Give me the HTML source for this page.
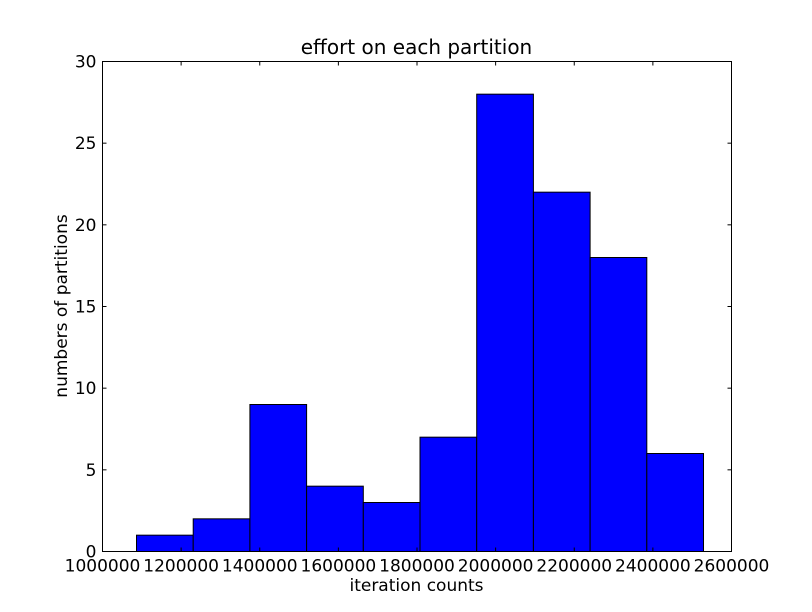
<!DOCTYPE html>
<html><head><meta charset="utf-8"><style>
html,body{margin:0;padding:0;background:#fff}
svg{display:block;font-family:"DejaVu Sans","Liberation Sans",sans-serif}
</style></head><body>
<svg id="chart" width="812" height="612">
<rect width="812" height="612" fill="#fff"/>
<text x="416.5" y="54" font-size="20" text-anchor="middle">effort on each partition</text>
<text x="416.5" y="591" font-size="17" text-anchor="middle">iteration counts</text>
<text transform="translate(67,306) rotate(-90)" font-size="17" text-anchor="middle">numbers of partitions</text>
<g id="bars"></g>
<g id="axes"></g>
</svg>
<script>
const binStart = 1086500;
const binWidth = 144230;
const counts = [1, 2, 9, 4, 3, 7, 28, 22, 18, 6];
const xTicks = [1000000, 1200000, 1400000, 1600000, 1800000, 2000000, 2200000, 2400000, 2600000];
const yTicks = [0, 5, 10, 15, 20, 25, 30];
const L=102.5,R=731.5,T=61.5,B=551.5;
const xMin=1000000,xMax=2600000,yMin=0,yMax=30;
const xs=v=>L+(v-xMin)/(xMax-xMin)*(R-L);
const ys=v=>B-(v-yMin)/(yMax-yMin)*(B-T);
const NS='http://www.w3.org/2000/svg';
const bars=document.getElementById('bars'),axes=document.getElementById('axes');
function mk(t,a,p){const e=document.createElementNS(NS,t);for(const k in a)e.setAttribute(k,a[k]);p.appendChild(e);return e;}
counts.forEach((c,i)=>{
  const x0=xs(binStart+i*binWidth),x1=xs(binStart+(i+1)*binWidth);
  const r=mk('rect',{x:x0,y:ys(c),width:x1-x0,height:ys(0)-ys(c),fill:'#0000ff',stroke:'#000','stroke-width':1},bars);
  
  
});
xTicks.forEach(v=>{
  const x=xs(v);
  mk('line',{x1:x,x2:x,y1:B,y2:B-4,stroke:'#000'},axes);
  mk('line',{x1:x,x2:x,y1:T,y2:T+4,stroke:'#000'},axes);
  const t=mk('text',{x:x,y:B+20,'font-size':17,'text-anchor':'middle'},axes);
  t.textContent=v;
  
  
});
yTicks.forEach(v=>{
  const y=ys(v);
  mk('line',{x1:L,x2:L+4,y1:y,y2:y,stroke:'#000'},axes);
  mk('line',{x1:R,x2:R-4,y1:y,y2:y,stroke:'#000'},axes);
  const t=mk('text',{x:L-6,y:y+6,'font-size':17,'text-anchor':'end'},axes);
  t.textContent=v;
  
  
});
const f=mk('rect',{x:L,y:T,width:R-L,height:B-T,fill:'none',stroke:'#000','stroke-width':1},axes);


</script>
</body></html>
